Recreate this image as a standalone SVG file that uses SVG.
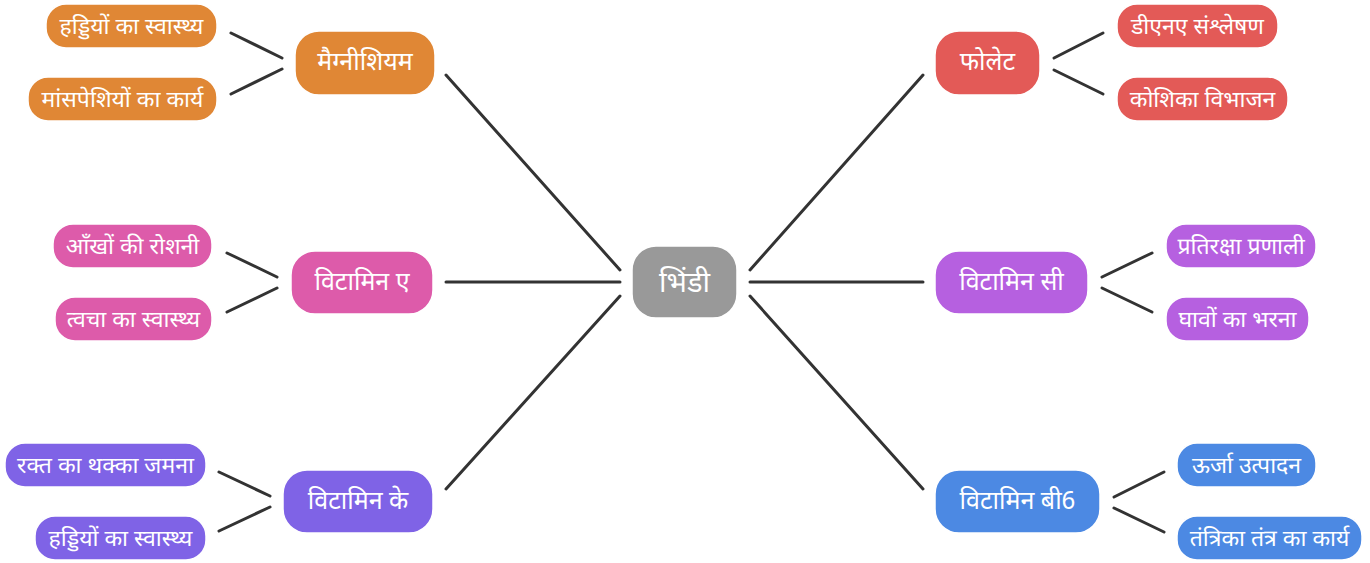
<svg xmlns="http://www.w3.org/2000/svg" width="1370" height="563" viewBox="0 0 1370 563">
<style>
text{font-family:"Noto Sans Devanagari","Noto Sans","Lohit Devanagari",sans-serif;fill:#fff;text-anchor:middle}
.r{font-size:29px}
.m{font-size:25px}
.l{font-size:23px}
.c line{stroke:#333;stroke-width:3;stroke-linecap:round}
rect{stroke:#fff;stroke-width:1.5}
</style>
<rect width="1370" height="563" fill="#fff" stroke="none"/>
<g class="c" id="connectors">
<line x1="620" y1="270" x2="446" y2="75"/>
<line x1="620" y1="282" x2="446" y2="282"/>
<line x1="620" y1="296" x2="446" y2="489"/>
<line x1="750" y1="270" x2="923" y2="75"/>
<line x1="750" y1="282" x2="923" y2="282"/>
<line x1="750" y1="296" x2="923" y2="489"/>
<line x1="231" y1="33" x2="282" y2="58"/>
<line x1="231" y1="94" x2="282" y2="69"/>
<line x1="1054" y1="58" x2="1103" y2="33"/>
<line x1="1054" y1="70" x2="1103" y2="94"/>
<line x1="227" y1="253" x2="277" y2="277"/>
<line x1="227" y1="312" x2="277" y2="288"/>
<line x1="1102" y1="277" x2="1152" y2="253"/>
<line x1="1102" y1="288" x2="1152" y2="312"/>
<line x1="219" y1="472" x2="270" y2="496"/>
<line x1="219" y1="531" x2="270" y2="507"/>
<line x1="1114" y1="497" x2="1164" y2="472"/>
<line x1="1114" y1="508" x2="1164" y2="532"/>
</g>
<g id="root"><rect x="632" y="246" width="105" height="72" rx="24" fill="#999"/><text class="r" x="684.5" y="292">भिंडी</text></g>
<g id="magnesium"><rect x="295" y="31" width="140" height="64" rx="24" fill="#E08735"/><text class="m" x="365" y="70">मैग्नीशियम</text></g>
<g id="mg1"><rect x="46" y="4" width="171" height="44" rx="20" fill="#E08735"/><text class="l" x="131.5" y="34">हड्डियों का स्वास्थ्य</text></g>
<g id="mg2"><rect x="28" y="77" width="189" height="44" rx="20" fill="#E08735"/><text class="l" x="122.5" y="107">मांसपेशियों का कार्य</text></g>
<g id="folate"><rect x="935" y="31" width="105" height="64" rx="24" fill="#E35A57"/><text class="m" x="987.5" y="70">फोलेट</text></g>
<g id="fo1"><rect x="1117" y="4" width="161" height="44" rx="20" fill="#E35A57"/><text class="l" x="1197.5" y="34">डीएनए संश्लेषण</text></g>
<g id="fo2"><rect x="1117" y="77" width="171" height="44" rx="20" fill="#E35A57"/><text class="l" x="1202.5" y="107">कोशिका विभाजन</text></g>
<g id="vita"><rect x="291" y="251" width="142" height="63" rx="24" fill="#DD5BAA"/><text class="m" x="362" y="290">विटामिन ए</text></g>
<g id="va1"><rect x="53" y="224" width="159" height="44" rx="20" fill="#DD5BAA"/><text class="l" x="132.5" y="254">आँखों की रोशनी</text></g>
<g id="va2"><rect x="55" y="297" width="157" height="44" rx="20" fill="#DD5BAA"/><text class="l" x="133.5" y="327">त्वचा का स्वास्थ्य</text></g>
<g id="vitc"><rect x="935" y="251" width="153" height="63" rx="24" fill="#B660E0"/><text class="m" x="1011.5" y="290">विटामिन सी</text></g>
<g id="vc1"><rect x="1166" y="224" width="150" height="44" rx="20" fill="#B660E0"/><text class="l" x="1241" y="254">प्रतिरक्षा प्रणाली</text></g>
<g id="vc2"><rect x="1166" y="297" width="143" height="44" rx="20" fill="#B660E0"/><text class="l" x="1237.5" y="327">घावों का भरना</text></g>
<g id="vitk"><rect x="283" y="470" width="150" height="63" rx="24" fill="#7F63E6"/><text class="m" x="358" y="509">विटामिन के</text></g>
<g id="vk1"><rect x="5" y="443" width="201" height="44" rx="20" fill="#7F63E6"/><text class="l" x="105.5" y="473">रक्त का थक्का जमना</text></g>
<g id="vk2"><rect x="35" y="516" width="171" height="44" rx="20" fill="#7F63E6"/><text class="l" x="120.5" y="546">हड्डियों का स्वास्थ्य</text></g>
<g id="vitb6"><rect x="935" y="470" width="165" height="63" rx="24" fill="#4C89E3"/><text class="m" x="1017.5" y="509">विटामिन बी6</text></g>
<g id="vb1"><rect x="1177" y="443" width="139" height="44" rx="20" fill="#4C89E3"/><text class="l" x="1246.5" y="473">ऊर्जा उत्पादन</text></g>
<g id="vb2"><rect x="1177" y="516" width="185" height="44" rx="20" fill="#4C89E3"/><text class="l" x="1269.5" y="546">तंत्रिका तंत्र का कार्य</text></g>
</svg>
